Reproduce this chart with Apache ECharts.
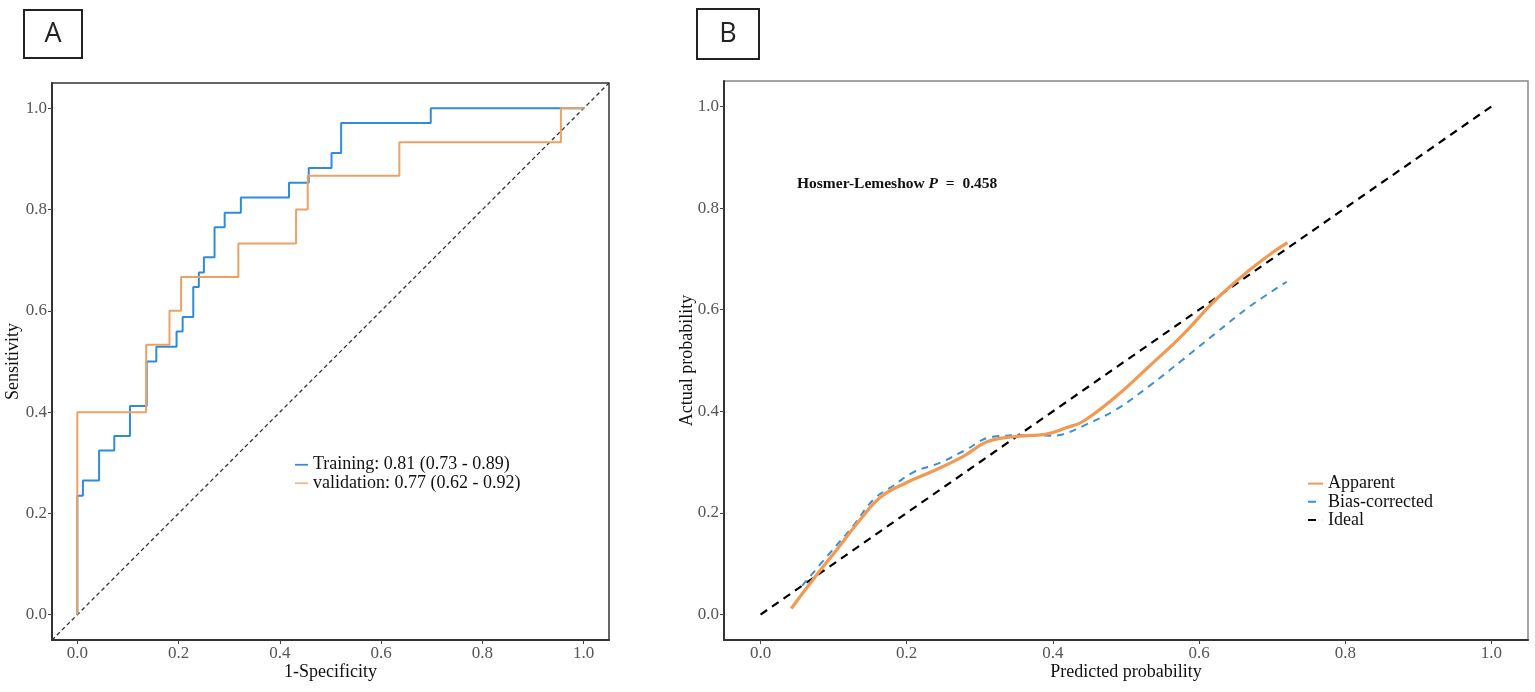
<!DOCTYPE html>
<html>
<head>
<meta charset="utf-8">
<script src="https://cdn.jsdelivr.net/npm/echarts@6/dist/echarts.min.js"></script>
<style>
html,body{margin:0;padding:0;background:#fff;}
#chart{width:1535px;height:692px;}
</style>
</head>
<body>
<div id="chart"></div>
<script>
// ---- Data ----
var tickValues = [0, 0.2, 0.4, 0.6, 0.8, 1.0];

// Panel A: ROC curve vertices
var trainFpr = [0,0,0.011,0.011,0.043,0.043,0.073,0.073,0.104,0.104,0.137,0.137,0.156,0.156,0.196,0.196,0.208,0.208,0.229,0.229,0.240,0.240,0.250,0.250,0.271,0.271,0.291,0.291,0.323,0.323,0.418,0.418,0.457,0.457,0.502,0.502,0.521,0.521,0.698,0.698,1.0];
var trainTpr = [0,0.235,0.235,0.265,0.265,0.324,0.324,0.353,0.353,0.412,0.412,0.500,0.500,0.529,0.529,0.559,0.559,0.588,0.588,0.647,0.647,0.676,0.676,0.706,0.706,0.765,0.765,0.794,0.794,0.824,0.824,0.853,0.853,0.882,0.882,0.912,0.912,0.971,0.971,1.0,1.0];
var valFpr = [0,0,0.136,0.136,0.182,0.182,0.205,0.205,0.318,0.318,0.432,0.432,0.455,0.455,0.636,0.636,0.955,0.955,1.0];
var valTpr = [0,0.400,0.400,0.533,0.533,0.600,0.600,0.667,0.667,0.733,0.733,0.800,0.800,0.867,0.867,0.933,0.933,1.0,1.0];
var diagRef = [-0.05, 1.05];

// Panel B: calibration curves
var apparentX = [0.042,0.073,0.105,0.137,0.164,0.200,0.237,0.278,0.310,0.346,0.391,0.419,0.441,0.487,0.532,0.578,0.623,0.669,0.700,0.721];
var apparentY = [0.012,0.071,0.129,0.188,0.231,0.260,0.283,0.312,0.340,0.350,0.355,0.368,0.380,0.430,0.489,0.551,0.620,0.678,0.712,0.732];
var biasX = [0.057,0.096,0.127,0.155,0.182,0.209,0.246,0.278,0.318,0.369,0.396,0.414,0.441,0.487,0.532,0.578,0.623,0.669,0.720];
var biasY = [0.057,0.123,0.175,0.227,0.254,0.280,0.299,0.322,0.350,0.353,0.352,0.355,0.371,0.404,0.450,0.502,0.554,0.606,0.655];
var idealX = [0, 1];
var idealY = [0, 1];

var labelTrain = 'Training: 0.81 (0.73 - 0.89)';
var labelVal = 'validation: 0.77 (0.62 - 0.92)';
var hlText = 'Hosmer-Lemeshow';
var hlP = '0.458';

function pairs(xs, ys){ return xs.map(function(x,i){ return [x, ys[i]]; }); }

var SERIF = 'Liberation Serif, Times New Roman, serif';
var cBlueA = '#2F8CDD';
var cOrangeA = '#EDA264';
var cOrangeB = '#F29A53';
var cBlueB = '#3C8FD6';

var ICON_LONG = 'path://M0,0h15v2h-15z';
var ICON_DASH = 'path://M0,0h8v2h-8z M14.9,0h0.1v2h-0.1z';

function makeX(gi, name){
  return {
    type:'value', gridIndex:gi, min:-0.05, max:1.05,
    name:name, nameLocation:'middle', nameGap:23, nameMoveOverlap:false,
    nameTextStyle:{fontFamily:SERIF, fontSize:18, color:'#111'},
    axisLine:{show:true, onZero:false, lineStyle:{color:'#333', width:2}},
    axisTick:{show:true, length:4, customValues:tickValues, lineStyle:{color:'#444', width:1}},
    axisLabel:{customValues:tickValues, margin:5, fontFamily:SERIF, fontSize:17, color:'#555',
      formatter:function(v){return v.toFixed(1);}},
    splitLine:{show:false}
  };
}
function makeY(gi, name, gap){
  return {
    type:'value', gridIndex:gi, min:-0.05, max:1.05,
    name:name, nameLocation:'middle', nameGap:gap, nameRotate:90, nameMoveOverlap:false,
    nameTextStyle:{fontFamily:SERIF, fontSize:18, color:'#111'},
    axisLine:{show:true, onZero:false, lineStyle:{color:'#333', width:2}},
    axisTick:{show:true, length:4, customValues:tickValues, lineStyle:{color:'#444', width:1}},
    axisLabel:{customValues:tickValues, margin:5, fontFamily:SERIF, fontSize:17, color:'#555',
      formatter:function(v){return v.toFixed(1);}},
    splitLine:{show:false}
  };
}

var chart = echarts.init(document.getElementById('chart'), null, {renderer:'canvas'});
var option = {
  backgroundColor:'#fff',
  animation:false,
  grid:[
    {left:52, right:926, top:83, bottom:52, show:true, borderColor:'#333', borderWidth:1.5, backgroundColor:'transparent', containLabel:false},
    {left:724, right:7, top:81, bottom:52, show:true, borderColor:'#888', borderWidth:1.5, backgroundColor:'transparent', containLabel:false}
  ],
  xAxis:[ makeX(0,'1-Specificity'), makeX(1,'Predicted probability') ],
  yAxis:[ makeY(0,'Sensitivity',30), makeY(1,'Actual probability',28) ],
  legend:[
    {
      data:[
        {name:labelTrain, icon:ICON_LONG, itemStyle:{color:cBlueA}},
        {name:labelVal, icon:ICON_LONG, itemStyle:{color:'#EDB88C'}}
      ],
      orient:'vertical', left:290, top:450.5, itemWidth:13, itemHeight:2.5, itemGap:0,
      textStyle:{fontFamily:SERIF, fontSize:18, lineHeight:18.5, color:'#111'}
    },
    {
      data:[
        {name:'Apparent', icon:ICON_LONG, itemStyle:{color:cOrangeB}},
        {name:'Bias-corrected', icon:ICON_DASH, itemStyle:{color:cBlueB}},
        {name:'Ideal', icon:ICON_DASH, itemStyle:{color:'#000'}}
      ],
      orient:'vertical', left:1303, top:469.5, itemWidth:15, itemHeight:3, itemGap:0,
      textStyle:{fontFamily:SERIF, fontSize:18, lineHeight:18.2, color:'#111'}
    }
  ],
  title:[
    {
      text:hlText + ' {i|P}  =  ' + hlP,
      left:792, top:171,
      textStyle:{fontFamily:SERIF, fontSize:15.5, fontWeight:'bold', color:'#111',
        rich:{i:{fontFamily:SERIF, fontSize:15.5, fontWeight:'bold', fontStyle:'italic', color:'#111'}}}
    }
  ],
  graphic:[
    {type:'rect', shape:{x:24, y:10, width:58, height:48}, style:{fill:'#fff', stroke:'#222', lineWidth:2}},
    {type:'text', x:53, y:34, style:{text:'A', fontFamily:'Open Sans, Noto Sans, sans-serif', fontSize:27, fill:'#222', align:'center', verticalAlign:'middle'}},
    {type:'rect', shape:{x:697, y:9, width:62, height:50}, style:{fill:'#fff', stroke:'#222', lineWidth:2}},
    {type:'text', x:728, y:34, style:{text:'B', fontFamily:'Open Sans, Noto Sans, sans-serif', fontSize:27, fill:'#222', align:'center', verticalAlign:'middle'}}
  ],
  series:[
    {
      name:'diag', type:'line', xAxisIndex:0, yAxisIndex:0, data:pairs(diagRef, diagRef),
      showSymbol:false, symbol:'none', silent:true, z:1,
      lineStyle:{color:'#333', width:1.3, type:[4,3]}
    },
    {
      name:labelTrain, type:'line', xAxisIndex:0, yAxisIndex:0, data:pairs(trainFpr, trainTpr),
      symbol:'none', color:cBlueA, lineStyle:{color:cBlueA, width:2}, z:2
    },
    {
      name:labelVal, type:'line', xAxisIndex:0, yAxisIndex:0, data:pairs(valFpr, valTpr),
      symbol:'none', color:cOrangeA, lineStyle:{color:cOrangeA, width:2}, z:3
    },
    {
      name:'Ideal', type:'line', xAxisIndex:1, yAxisIndex:1, data:pairs(idealX, idealY),
      symbol:'none', color:'#000', lineStyle:{color:'#000', width:2.2, type:[8,6]}, z:2
    },
    {
      name:'Bias-corrected', type:'line', xAxisIndex:1, yAxisIndex:1, data:pairs(biasX, biasY), smooth:0.4,
      symbol:'none', color:cBlueB, lineStyle:{color:cBlueB, width:2, type:[7,6]}, z:3
    },
    {
      name:'Apparent', type:'line', xAxisIndex:1, yAxisIndex:1, data:pairs(apparentX, apparentY), smooth:0.4,
      symbol:'none', color:cOrangeB, lineStyle:{color:cOrangeB, width:3.2}, z:4
    }
  ]
};
chart.setOption(option);
</script>
</body>
</html>
